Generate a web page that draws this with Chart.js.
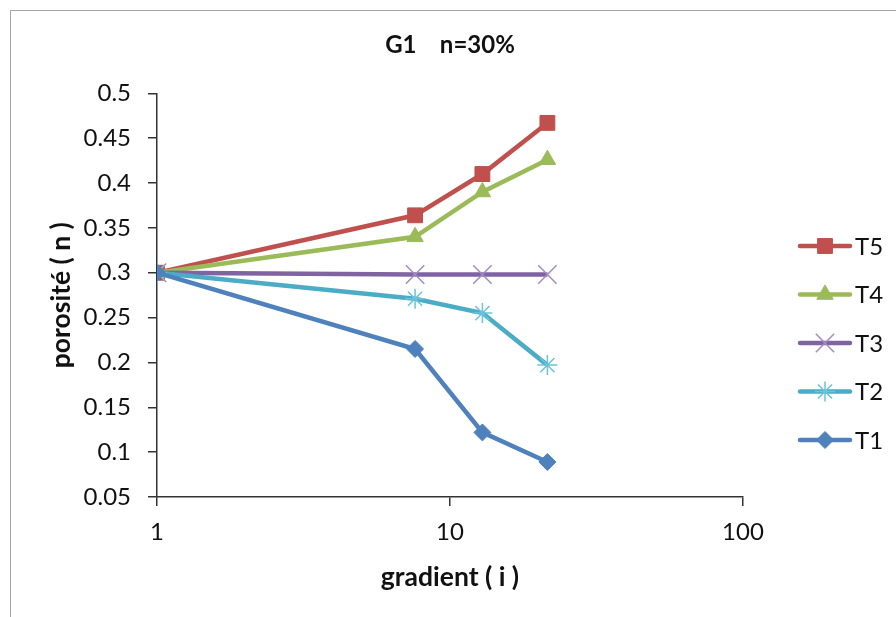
<!DOCTYPE html>
<html>
<head>
<meta charset="utf-8">
<script src="https://cdn.jsdelivr.net/npm/chart.js@4/dist/chart.umd.min.js"></script>
<style>
  html, body { margin: 0; padding: 0; background: #fff; }
  #wrap { position: relative; width: 896px; height: 617px; overflow: hidden; }
  #frame { position: absolute; left: 10px; top: 10px; width: 900px; height: 620px;
           border-left: 1.5px solid #a6a6a6; border-top: 1.5px solid #a6a6a6; }
  canvas { position: absolute; left: 0; top: 0; }
</style>
</head>
<body>
<div id="wrap">
  <div id="frame"></div>
  <canvas id="mychart" width="896" height="617"></canvas>
</div>
<script>
// gradient values (log axis)
const gradient = [1, 7.6, 12.9, 21.5];

// porosity per series
const T1 = [0.3, 0.215, 0.122, 0.089];
const T2 = [0.3, 0.271, 0.255, 0.197];
const T3 = [0.3, 0.298, 0.298, 0.298];
const T4 = [0.3, 0.34, 0.39, 0.426];
const T5 = [0.3, 0.364, 0.41, 0.467];

const xTicks = [1, 10, 100];
const yTicks = [0.05, 0.1, 0.15, 0.2, 0.25, 0.3, 0.35, 0.4, 0.45, 0.5];

const legendOrder = ['T5', 'T4', 'T3', 'T2', 'T1'];

function pts(ys) {
    return ys.map((y, i) => ({ x: gradient[i], y: y }));
}

Chart.defaults.font.family = 'Lato';
Chart.defaults.color = '#111';

// drawn T1 first so it sits on top
const datasets = [
    { label: 'T1', data: pts(T1), borderColor: '#4F81BD', backgroundColor: '#4F81BD', pointStyle: 'rectRot', pointRadius: 8.5, pointBorderWidth: 1 },
    { label: 'T2', data: pts(T2), borderColor: '#4BACC6', backgroundColor: '#4BACC6', pointStyle: 'star', pointRadius: 10, pointBorderWidth: 1.5, pointBorderColor: '#6cc3da' },
    { label: 'T3', data: pts(T3), borderColor: '#8064A2', backgroundColor: '#8064A2', pointStyle: 'crossRot', pointRadius: 13, pointBorderWidth: 1.5, pointBorderColor: '#a08cbf' },
    { label: 'T4', data: pts(T4), borderColor: '#9BBB59', backgroundColor: '#9BBB59', pointStyle: 'triangle', pointRadius: 9.5, pointBorderWidth: 1 },
    { label: 'T5', data: pts(T5), borderColor: '#C0504D', backgroundColor: '#C0504D', pointStyle: 'rect', pointRadius: 10.5, pointBorderWidth: 1 },
];
datasets.forEach(d => {
    d.borderWidth = 4.5;
    d.tension = 0;
    d.pointHoverRadius = d.pointRadius;
});

// legend at the right: line with marker, then label
const sideLegend = {
    id: 'sideLegend',
    afterDraw(chart) {
        const ctx = chart.ctx;
        const x0 = chart.chartArea.right + 57;
        const y0 = 246;
        ctx.save();
        legendOrder.forEach((name, k) => {
            const ds = chart.data.datasets.find(d => d.label === name);
            const y = y0 + k * 48.5;
            ctx.strokeStyle = ds.borderColor;
            ctx.lineWidth = ds.borderWidth;
            ctx.lineCap = 'round';
            ctx.beginPath();
            ctx.moveTo(x0, y);
            ctx.lineTo(x0 + 50, y);
            ctx.stroke();
            ctx.lineCap = 'butt';
            ctx.fillStyle = ds.backgroundColor;
            ctx.strokeStyle = ds.pointBorderColor || ds.borderColor;
            ctx.lineWidth = ds.pointBorderWidth;
            Chart.helpers.drawPoint(ctx, {
                pointStyle: ds.pointStyle, radius: ds.pointRadius, rotation: 0, borderWidth: ds.pointBorderWidth
            }, x0 + 25, y);
            ctx.fillStyle = '#111';
            ctx.font = '24px Lato';
            ctx.textAlign = 'left';
            ctx.textBaseline = 'middle';
            ctx.fillText(name, x0 + 55, y + 1);
        });
        ctx.restore();
    }
};

const ctx = document.getElementById('mychart');
const myChart = new Chart(ctx, {
    type: 'line',
    data: { datasets: datasets },
    plugins: [sideLegend],
    options: {
        responsive: false,
        animation: false,
        events: [],
        layout: { padding: { left: 0, right: 153, top: 0, bottom: 0 } },
        plugins: {
            legend: { display: false },
            tooltip: { enabled: false },
            title: {
                display: true,
                fullSize: false,
                text: 'G1    n=30%',
                color: '#111',
                font: { size: 24, weight: 'bold' },
                padding: { top: 30.5, bottom: 34 },
            },
        },
        scales: {
            x: {
                type: 'logarithmic',
                min: 1,
                max: 100,
                afterBuildTicks: (s) => { s.ticks = xTicks.map(v => ({ value: v })); },
                afterFit: (s) => { s.height = 120; },
                ticks: {
                    font: { size: 24 },
                    padding: 12,
                    maxRotation: 0,
                    callback: (v) => String(v),
                },
                grid: { drawOnChartArea: false, drawTicks: true, tickLength: 9, color: '#333', lineWidth: 1.5 },
                border: { display: true, color: '#333', width: 1.5 },
                title: {
                    display: true,
                    text: 'gradient ( i )',
                    color: '#111',
                    font: { size: 26.5, weight: 'bold' },
                    padding: { top: 0, bottom: 24 },
                },
            },
            y: {
                type: 'linear',
                min: 0.05,
                max: 0.5,
                afterBuildTicks: (s) => { s.ticks = yTicks.map(v => ({ value: v })); },
                afterFit: (s) => { s.width = 157; },
                ticks: {
                    font: { size: 24 },
                    padding: 17,
                    callback: (v) => String(+v.toFixed(2)),
                },
                grid: { drawOnChartArea: false, drawTicks: true, tickLength: 9, color: '#333', lineWidth: 1.5 },
                border: { display: true, color: '#333', width: 1.5 },
                title: {
                    display: true,
                    text: 'porosité ( n )',
                    color: '#111',
                    font: { size: 26.5, weight: 'bold' },
                    padding: { top: 46, bottom: 0 },
                },
            },
        },
    },
});
</script>
</body>
</html>
